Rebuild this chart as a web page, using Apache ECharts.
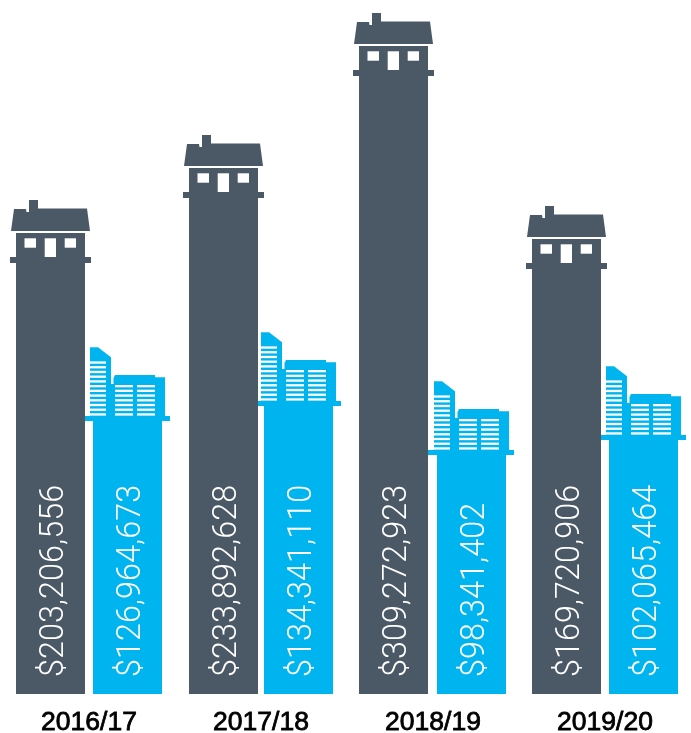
<!DOCTYPE html>
<html>
<head>
<meta charset="utf-8">
<style>
html, body { margin: 0; padding: 0; background: #fff; }
#chart { width: 691px; height: 733px; }
</style>
<script src="https://cdn.jsdelivr.net/npm/echarts@6/dist/echarts.min.js"></script>
</head>
<body>
<div id="chart"></div>
<script>
// the bars in the picture are not to scale with the dollar amounts,
// so drawn heights are read off the picture and kept apart from the labels
var years = ['2016/17', '2017/18', '2018/19', '2019/20'];
var houseHeights = [437, 502, 624, 431];
var unitHeights = [278, 293, 244, 259];
var houseAmounts = ['$203,206,556', '$233,892,628', '$309,272,923', '$169,720,906'];
var unitAmounts = ['$126,964,673', '$134,341,110', '$98,341,402', '$102,065,464'];

var GREY = '#4b5966';
var BLUE = '#00b5ef';
var BAR_W = 69;
var LABEL_FONT = '300 32.4px Roboto';

// gaps in the artwork are slightly uneven from group to group
var houseShift = [-73, -72, -74, -73];
var unitShift = [4, 3, 4, 4];

function poly(x, y, pts, fill) {
    return {
        type: 'polygon',
        silent: true,
        shape: { points: pts.map(function (p) { return [x + p[0], y + p[1]]; }) },
        style: { fill: fill }
    };
}

function box(x, y, w, h, fill) {
    return { type: 'rect', silent: true, shape: { x: x, y: y, width: w, height: h }, style: { fill: fill } };
}

function upText(x, y, text) {
    return {
        type: 'text',
        silent: true,
        x: x,
        y: y,
        rotation: Math.PI / 2,
        style: { text: text, fill: '#fff', font: LABEL_FONT, textAlign: 'left', textVerticalAlign: 'middle' }
    };
}

function renderHouse(params, api) {
    var i = api.value(0);
    var base = api.coord([i, 0]);
    var top = api.coord([i, api.value(1)]);
    var x = base[0] + houseShift[i];
    var y = top[1];
    var kids = [];
    // roof with chimney
    kids.push(poly(x, y, [[-5, -26], [-2, -48], [10, -48], [10.5, -45], [13, -45], [13, -57], [22, -57], [22, -48.5], [71, -48.5], [74, -26]], GREY));
    // wall, ledge, body
    kids.push(box(x, y - 24, BAR_W, 24, GREY));
    kids.push(box(x - 6, y, BAR_W + 12, 6, GREY));
    kids.push(box(x, y, BAR_W, base[1] - y, GREY));
    // windows and door
    kids.push(box(x + 8.5, y - 18.7, 11.5, 9.4, '#fff'));
    kids.push(box(x + 28.7, y - 18.7, 11.3, 18.7, '#fff'));
    kids.push(box(x + 48.7, y - 18.7, 11.3, 9.4, '#fff'));
    kids.push(upText(x + 39, 677, houseAmounts[i]));
    return { type: 'group', children: kids };
}

function renderUnits(params, api) {
    var i = api.value(0);
    var base = api.coord([i, 0]);
    var top = api.coord([i, api.value(1)]);
    var x = base[0] + unitShift[i];
    var y = top[1];
    var kids = [];
    // tower and low block
    kids.push(poly(x, y, [[-3, -68.7], [5, -68.7], [18, -58.7], [18, 0], [-3, 0]], BLUE));
    kids.push(poly(x, y, [[20.5, -38], [22, -41], [62, -41], [62, -38.7], [72, -38.7], [72, 0], [20.5, 0]], BLUE));
    kids.push(box(x + 18, y - 32, 4, 32, BLUE));
    // ledge and body
    kids.push(box(x - 9, y, BAR_W + 17, 5, BLUE));
    kids.push(box(x, y, BAR_W, base[1] - y, BLUE));
    // floor stripes
    for (var r = 0; r < 12; r++) {
        kids.push(box(x - 3, y - 2.7 - r * 4.72, 16, 2.3, '#fff'));
    }
    for (var c = 0; c < 7; c++) {
        kids.push(box(x + 22, y - 2.7 - c * 4.72, 18, 2.3, '#fff'));
        kids.push(box(x + 44, y - 2.7 - c * 4.72, 18, 2.3, '#fff'));
    }
    kids.push(upText(x + 39, 677, unitAmounts[i]));
    return { type: 'group', children: kids };
}

var chart = echarts.init(document.getElementById('chart'), null, { renderer: 'canvas' });
chart.setOption({
    animation: false,
    backgroundColor: '#fff',
    grid: { left: 3, right: 0, top: 0, bottom: 39, outerBoundsMode: 'none' },
    xAxis: {
        type: 'category',
        data: years,
        axisLine: { show: false },
        axisTick: { show: false },
        axisLabel: {
            color: '#000',
            fontFamily: 'Liberation Sans',
            fontSize: 26.5,
            textBorderColor: '#000',
            textBorderWidth: 0.8,
            margin: 15
        }
    },
    yAxis: { type: 'value', min: 0, max: 694, show: false },
    series: [
        {
            type: 'custom',
            name: 'Units',
            renderItem: renderUnits,
            encode: { x: 0, y: 1 },
            data: unitHeights.map(function (v, i) { return [i, v]; }),
            z: 2
        },
        {
            type: 'custom',
            name: 'Houses',
            renderItem: renderHouse,
            encode: { x: 0, y: 1 },
            data: houseHeights.map(function (v, i) { return [i, v]; }),
            z: 3
        }
    ]
});
</script>
</body>
</html>
